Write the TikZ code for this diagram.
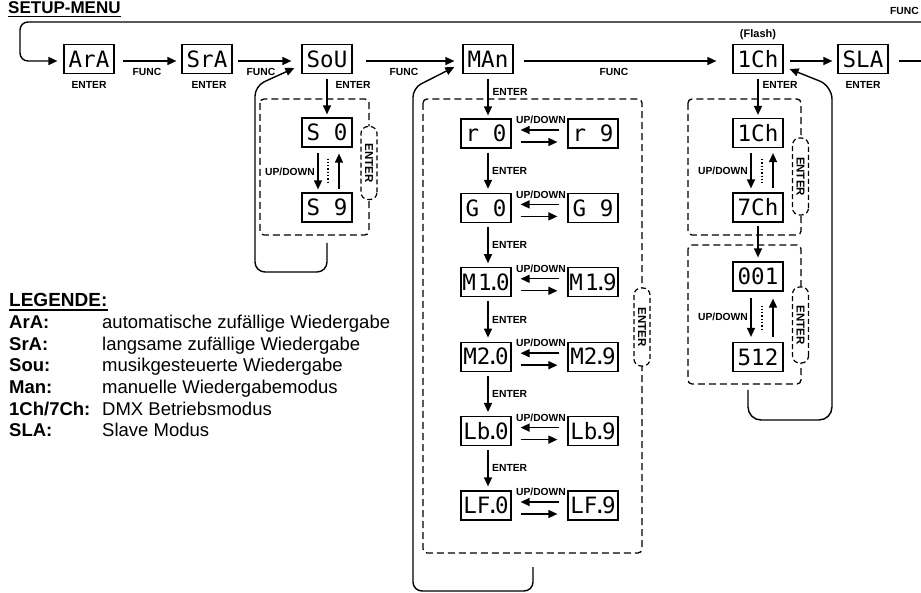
\documentclass[tikz,border=0pt]{standalone}
\usepackage{fontspec}
\setmainfont{Liberation Sans}
\newfontfamily\segfont{DejaVu Sans Mono}
\usetikzlibrary{arrows.meta,calc}
\newcommand\segdot{\kern-0.2em.\kern-0.2em}
\newcommand\segsp{\kern0.6em}
\begin{document}
\begin{tikzpicture}[x=1pt,y=-1pt,
  conn/.style={line width=1.4pt},
  arr/.style={conn,-{Triangle[length=9pt,width=8pt]}},
  disp/.style={draw,line width=1.2pt,minimum width=50pt,minimum height=29pt,inner sep=0pt,font=\segfont\fontsize{22.5}{22.5}\selectfont},
  lab/.style={inner sep=0pt,font=\bfseries\fontsize{10.3}{12}\selectfont},
  dbox/.style={draw,line width=1.3pt,dash pattern=on 7pt off 4pt,rounded corners=4pt},
  caps/.style={draw,fill=white,line width=1.2pt,dash pattern=on 5pt off 3pt,rounded corners=7pt,minimum height=16pt,inner sep=0pt,rotate=-90,font=\bfseries\fontsize{11.5}{12}\selectfont},
  dots/.style={line width=1.3pt,dotted},
  legl/.style={anchor=base west,inner sep=0pt,font=\bfseries\fontsize{18.5}{20}\selectfont},
  legd/.style={anchor=base west,inner sep=0pt,font=\fontsize{18.5}{20}\selectfont},
]
\useasboundingbox (0,0) rectangle (921,593);

% title
\node[anchor=base west,inner sep=0pt,font=\bfseries\fontsize{17}{18}\selectfont] (title) at (8,14) {SETUP-MENU};
\draw[line width=1.5pt] ($(title.base west)+(0,2.5)$) -- ($(title.base east)+(0,2.5)$);
\node[lab,anchor=east] (functop) at (919,11) {FUNC};

% top row
\node[disp] (ArA) at (89,59) {ArA};
\node[disp] (SrA) at (207,59) {SrA};
\node[disp] (SoU) at (327,59) {SoU};
\node[disp] (MAn) at (488,59) {MAn};
\node[disp] (ch1) at (758,59) {1Ch};
\node[disp] (SLA) at (863,59) {SLA};
\coordinate (topR) at (921,22);
\coordinate (exitR) at (921,61);

\draw[arr,rounded corners=8pt] (topR) -- (20,22) -- (20,61) -- ([xshift=-6pt,yshift=-2pt]ArA.west);
\draw[arr] ([xshift=8pt,yshift=-2pt]ArA.east) -- ([xshift=-5pt,yshift=-2pt]SrA.west);
\draw[arr] ([xshift=5pt,yshift=-2pt]SrA.east) -- ([xshift=-10pt,yshift=-2pt]SoU.west);
\draw[arr] ([xshift=13pt,yshift=-2pt]SoU.east) -- ([xshift=-8pt,yshift=-2pt]MAn.west);
\draw[arr] ([xshift=10pt,yshift=-2pt]MAn.east) -- ([xshift=-16pt,yshift=-2pt]ch1.west);
\draw[arr] ([xshift=6pt,yshift=-2pt]ch1.east) -- ([xshift=-5pt,yshift=-2pt]SLA.west);
\draw[conn] ([xshift=10pt,yshift=-2pt]SLA.east) -- (exitR);

\node[lab] (f1) at (147,72) {FUNC};
\node[lab] (f2) at (261,72) {FUNC};
\node[lab] (f3) at (404,72) {FUNC};
\node[lab] (f4) at (614,72) {FUNC};
\node[lab] (eArA) at (89,85) {ENTER};
\node[lab] (eSrA) at (209,85) {ENTER};
\node[lab] (eSLA) at (863,85) {ENTER};
\node[lab] (eSoU) at (353,85) {ENTER};
\node[lab] (ech1) at (780,85) {ENTER};
\node[lab] (eMAn) at (510,92) {ENTER};
\node[inner sep=0pt,font=\bfseries\fontsize{11}{12}\selectfont] (flash) at (758,35) {(Flash)};

% ---- SoU group
\draw[dbox] (260,99) rectangle (369,235);
\node[disp] (S0) at (327,132.5) {S\segsp0};
\node[disp] (S9) at (327,207.5) {S\segsp9};
\draw[arr,shorten <=5pt,shorten >=3pt] (SoU) -- (S0);
\draw[arr] ([xshift=-9pt,yshift=-5pt]S0.south) -- ([xshift=-9pt,yshift=3pt]S9.north);
\draw[arr] ([xshift=12pt,yshift=3pt]S9.north) -- ([xshift=12pt,yshift=-6pt]S0.south);
\draw[dots] ([xshift=1pt,yshift=-11pt]S0.south) -- ([xshift=1pt,yshift=10pt]S9.north);
\node[lab] (uS) at (290,172) {UP/DOWN};
\node[caps,minimum width=73pt] (capS) at (369,163) {ENTER};
\coordinate (sLoop) at (327,243);
\draw[arr,rounded corners=10pt] (sLoop) -- (327,272) -- (255,272) -- (255,86) -- ([xshift=-7pt,yshift=-9pt]SoU.west);

% ---- MAn group
\draw[dbox] (423,99) rectangle (642,553);
\node[disp] (L0) at (486,133.5) {r\segsp0};
\node[disp] (R0) at (593,133.5) {r\segsp9};
\node[disp] (L1) at (486,207.9) {G\segsp0};
\node[disp] (R1) at (593,207.9) {G\segsp9};
\node[disp] (L2) at (486,282.3) {M\kern0.1em1\segdot0};
\node[disp] (R2) at (593,282.3) {M\kern0.1em1\segdot9};
\node[disp] (L3) at (486,356.7) {M2\segdot0};
\node[disp] (R3) at (593,356.7) {M2\segdot9};
\node[disp] (L4) at (486,431.1) {Lb\segdot0};
\node[disp] (R4) at (593,431.1) {Lb\segdot9};
\node[disp] (L5) at (486,505.5) {LF\segdot0};
\node[disp] (R5) at (593,505.5) {LF\segdot9};
\draw[arr,shorten <=5pt] (MAn.south) -- ([xshift=2pt,yshift=3pt]L0.north);
\foreach \a/\b in {L0/L1,L1/L2,L2/L3,L3/L4,L4/L5}{
  \draw[arr] ([xshift=2pt,yshift=-4pt]\a.south) -- ([xshift=2pt,yshift=4pt]\b.north);
  \node[lab,anchor=west] at ($(\a.south)!0.5!(\b.north)+(6,0)$) {ENTER};
}
\foreach \a/\b in {L0/R0,L1/R1,L2/R2,L3/R3,L4/R4,L5/R5}{
  \draw[arr] ($(\b.west)+(-8,-3.5)$) -- ($(\a.east)+(9,-3.5)$);
  \draw[arr] ($(\a.east)+(9,8.5)$) -- ($(\b.west)+(-10,8.5)$);
  \node[lab] at ($(\a.east)!0.5!(\b.west)+(1.5,-13.5)$) {UP/DOWN};
}
\node[caps,minimum width=78pt] (capM) at (642,327) {ENTER};
\coordinate (mLoop) at (533,567);
\draw[arr,rounded corners=9pt] (mLoop) -- (533,591) -- (413,591) -- (413,88) -- ([xshift=-8pt,yshift=-8pt]MAn.west);

% ---- 1Ch group
\draw[dbox] (688,99) rectangle (801,235);
\draw[dbox] (688,245) rectangle (801,384);
\node[disp] (C1) at (758,133) {1Ch};
\node[disp] (C7) at (758,207.5) {7Ch};
\node[disp] (A1) at (758,276.5) {001};
\node[disp] (A5) at (758,357) {512};
\draw[arr,shorten <=5pt,shorten >=3pt] (ch1) -- (C1);
\draw[arr,shorten <=3pt,shorten >=4pt] (C7) -- (A1);
\draw[arr] ([xshift=-7pt,yshift=-5pt]C1.south) -- ([xshift=-7pt,yshift=4pt]C7.north);
\draw[arr] ([xshift=15pt,yshift=4pt]C7.north) -- ([xshift=15pt,yshift=-5pt]C1.south);
\draw[dots] ([xshift=4pt,yshift=-11pt]C1.south) -- ([xshift=4pt,yshift=10pt]C7.north);
\node[lab] (uC1) at (723,171) {UP/DOWN};
\draw[arr] ([xshift=-7pt,yshift=-6pt]A1.south) -- ([xshift=-7pt,yshift=5pt]A5.north);
\draw[arr] ([xshift=15pt,yshift=5pt]A5.north) -- ([xshift=15pt,yshift=-7pt]A1.south);
\draw[dots] ([xshift=4pt,yshift=-14pt]A1.south) -- ([xshift=4pt,yshift=12pt]A5.north);
\node[lab] (uA1) at (723,317) {UP/DOWN};
\node[caps,minimum width=77pt] (capC1) at (800.5,176.5) {ENTER};
\node[caps,minimum width=76pt] (capC2) at (800.5,325) {ENTER};
\coordinate (cLoop) at (748,390);
\draw[arr,rounded corners=13pt] (cLoop) -- (748,420) -- (832,420) -- (832,86) -- ([xshift=6pt,yshift=-10pt]ch1.east);

% ---- legend
\node[anchor=base west,inner sep=0pt,font=\bfseries\fontsize{19}{20}\selectfont] (leg) at (9,307) {LEGENDE:};
\draw[line width=1.5pt] ($(leg.base west)+(0,3)$) -- ($(leg.base east)+(0,3)$);
\node[legl] (k1) at (9,329) {ArA:};     \node[legd] (d1) at (102,329) {automatische zufällige Wiedergabe};
\node[legl] (k2) at (9,350.5) {SrA:};   \node[legd] (d2) at (102,350.5) {langsame zufällige Wiedergabe};
\node[legl] (k3) at (9,372) {Sou:};     \node[legd] (d3) at (102,372) {musikgesteuerte Wiedergabe};
\node[legl] (k4) at (9,393.5) {Man:};   \node[legd] (d4) at (102,393.5) {manuelle Wiedergabemodus};
\node[legl] (k5) at (9,415) {1Ch/7Ch:}; \node[legd] (d5) at (102,415) {DMX Betriebsmodus};
\node[legl] (k6) at (9,436.5) {SLA:};   \node[legd] (d6) at (102,436.5) {Slave Modus};
\end{tikzpicture}
\end{document}
